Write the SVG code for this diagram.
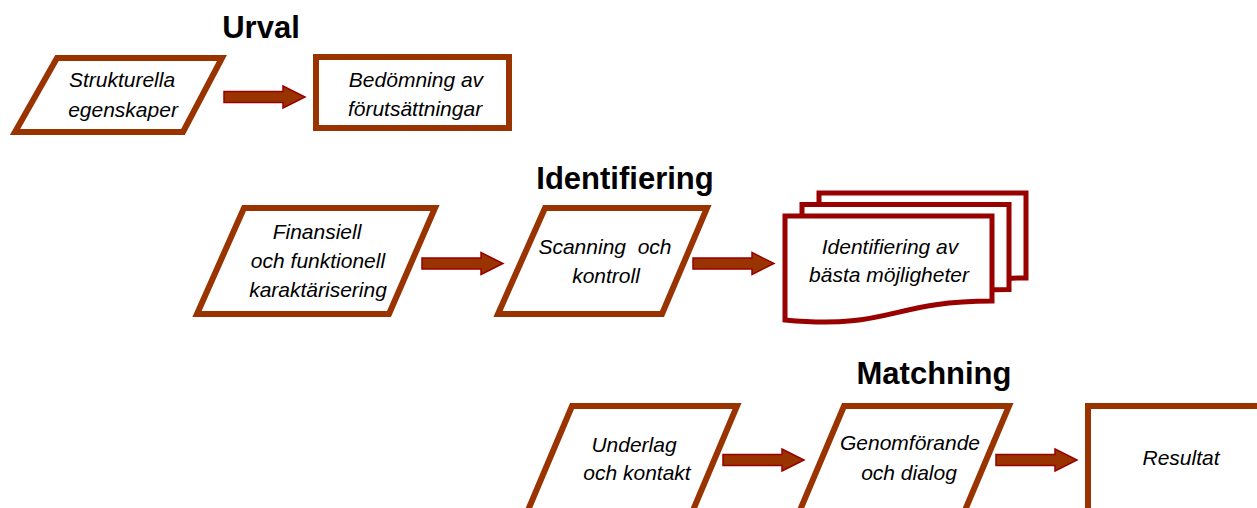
<svg xmlns="http://www.w3.org/2000/svg" xmlns:xlink="http://www.w3.org/1999/xlink" width="1257" height="508" viewBox="0 0 1257 508">
<style>
.shape{fill:#fff;stroke:#993300;stroke-width:6;stroke-linejoin:miter}
.doc{fill:#fff;stroke:#990000;stroke-width:5;stroke-linejoin:miter}
.arrow{fill:#993300;stroke:#990000;stroke-width:1.5;stroke-linejoin:miter}
.lbl{font-family:"Liberation Sans",Arial,sans-serif;font-style:italic;font-size:21px;fill:#000;text-anchor:middle}
.title{font-family:"Liberation Sans",Arial,sans-serif;font-weight:bold;font-size:31px;fill:#000;text-anchor:middle}
</style>
<defs>
<path id="arr" d="M0,-5.5 H59 V-11 L81,0 L59,11 V5.5 H0 Z"/>
<path id="docshape" d="M785,216 H992 V301 C890,301 890,330 785,320 Z"/>
</defs>
<rect width="1257" height="508" fill="#fff"/>
<g id="titles">
<text class="title" x="261" y="38">Urval</text>
<text class="title" x="625" y="189">Identifiering</text>
<text class="title" x="934" y="384">Matchning</text>
</g>
<g id="connectors">
<use xlink:href="#arr" class="arrow" transform="translate(224,97)"/>
<use xlink:href="#arr" class="arrow" transform="translate(422,263.5)"/>
<use xlink:href="#arr" class="arrow" transform="translate(693,263.5)"/>
<use xlink:href="#arr" class="arrow" transform="translate(723,460)"/>
<use xlink:href="#arr" class="arrow" transform="translate(996,460)"/>
</g>
<g id="strukturella">
<polygon class="shape" points="57,58 222,58 183,132 15,132"/>
<text class="lbl" x="122" y="87">Strukturella</text>
<text class="lbl" x="123" y="117">egenskaper</text>
</g>
<g id="bedomning">
<rect class="shape" x="316" y="57" width="193" height="71"/>
<text class="lbl" x="416" y="87">Bedömning av</text>
<text class="lbl" x="415" y="116">förutsättningar</text>
</g>
<g id="finansiell">
<polygon class="shape" points="244,208 435,208 389,314 197,314"/>
<text class="lbl" x="317" y="239">Finansiell</text>
<text class="lbl" x="318" y="268">och funktionell</text>
<text class="lbl" x="318" y="297">karaktärisering</text>
</g>
<g id="scanning">
<polygon class="shape" points="545,208 707,208 662,314 498,314"/>
<text class="lbl" x="605" y="254" xml:space="preserve">Scanning  och</text>
<text class="lbl" x="606" y="283">kontroll</text>
</g>
<g id="identifiering">
<use xlink:href="#docshape" class="doc" transform="translate(34,-23)"/>
<use xlink:href="#docshape" class="doc" transform="translate(17,-11.5)"/>
<use xlink:href="#docshape" class="doc"/>
<text class="lbl" x="890" y="254">Identifiering av</text>
<text class="lbl" x="889" y="282">bästa möjligheter</text>
</g>
<g id="underlag">
<polygon class="shape" points="572,406 737,406 672,560 507,560"/>
<text class="lbl" x="634" y="452">Underlag</text>
<text class="lbl" x="637" y="480">och kontakt</text>
</g>
<g id="genomforande">
<polygon class="shape" points="844,406 1009,406 944,560 779,560"/>
<text class="lbl" x="910" y="450">Genomförande</text>
<text class="lbl" x="909" y="480">och dialog</text>
</g>
<g id="resultat">
<path class="shape" d="M1088,530 V406 H1280 V530"/>
<text class="lbl" x="1181" y="465">Resultat</text>
</g>
</svg>
